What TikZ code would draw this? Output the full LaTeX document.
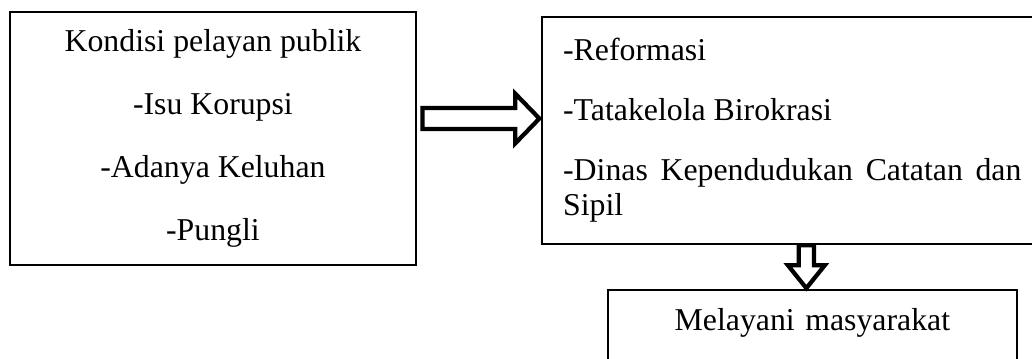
\documentclass[tikz,border=0pt]{standalone}
\usepackage{fontspec}
\setmainfont{Liberation Serif}
\setlength{\parindent}{0pt}
\begin{document}
\begin{tikzpicture}[
    box/.style={rectangle, draw=black, line width=0.8pt, inner sep=0pt, font=\fontsize{12}{13.2}\selectfont},
    hollow/.style={draw=black, fill=white, line join=miter, line width=1.6pt},
]
    \useasboundingbox (0,0) rectangle (13.69,-4.75);
    \clip (0,0) rectangle (13.69,-4.75);

    % Boxes
    \node[box, minimum width=5.385cm, minimum height=3.356cm, align=center] (kondisi) at (2.825,-1.837)
        {Kondisi pelayan publik\\[10.6pt]-Isu Korupsi\\[10.6pt]-Adanya Keluhan\\[10.6pt]-Pungli};
    \node[box, anchor=north west, minimum height=3.011cm, inner xsep=8pt, text width=173pt, align=justify] (reform) at (7.175,-0.212)
        {-Reformasi\\[9.4pt]-Tatakelola Birokrasi\\[9.4pt]-Dinas Kependudukan Catatan dan Sipil};
    \node[box, anchor=north west, text width=154.3pt, align=center, text height=15.2pt, text depth=15pt] (melayani) at (8.051,-3.833)
        {Melayani masyarakat};

    % Arrows
    \draw[hollow] (reform.west |- 0,-1.572) ++(-0.02,0) -- ++(-0.32,0.33) -- ++(0,-0.19) -- ++(-1.23,0)
        -- ++(0,-0.28) -- ++(1.23,0) -- ++(0,-0.19) -- cycle;
    \draw[hollow] (melayani.north) ++(-0.08,0.01) -- ++(0.245,0.305) -- ++(-0.145,0) -- ++(0,0.265)
        -- ++(-0.2,0) -- ++(0,-0.265) -- ++(-0.145,0) -- cycle;
\end{tikzpicture}
\end{document}
